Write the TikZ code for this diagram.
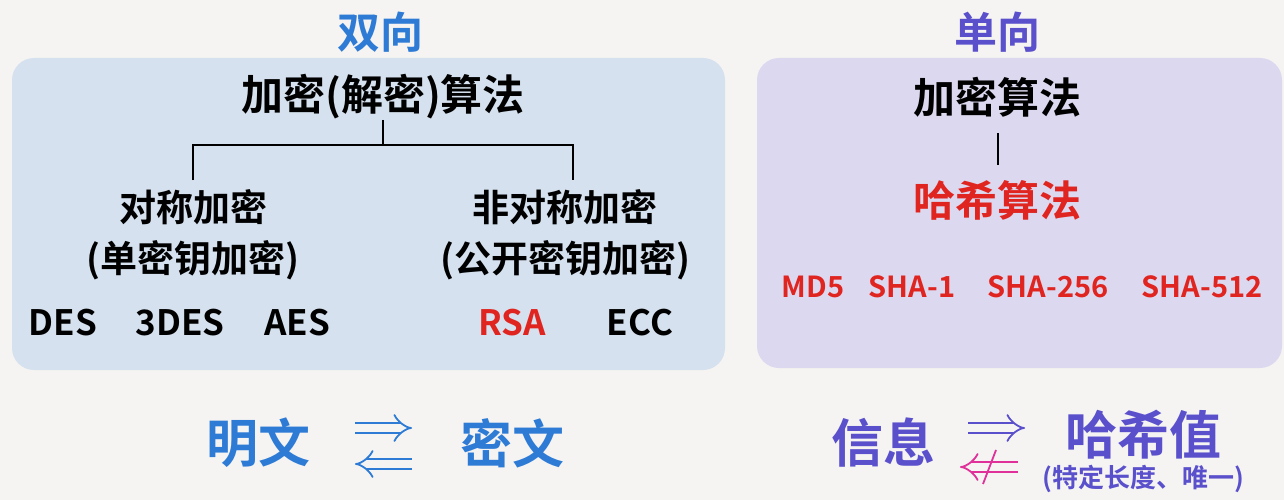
\documentclass[tikz,border=0pt]{standalone}
\usepackage{fontspec}
\setmainfont{Noto Sans CJK SC Bold}
\usetikzlibrary{arrows.meta}
\definecolor{bg}{HTML}{F5F4F2}
\definecolor{lbox}{HTML}{D5E1EE}
\definecolor{rbox}{HTML}{DCD8EF}
\definecolor{tblue}{HTML}{2E7BD6}
\definecolor{tpurp}{HTML}{5A50CC}
\definecolor{tred}{HTML}{E0241F}
\definecolor{tmag}{HTML}{E0309A}
\tikzset{
 t/.style={inner sep=0pt, anchor=center},
 fs/.style={font=\fontsize{#1}{#1}\selectfont},
 ln/.style={line width=2.2pt, black},
 dbl/.style={line width=1.8pt, double distance=8pt, -{Implies[length=9pt,width=18pt]}}
}
\begin{document}
\begin{tikzpicture}[x=1pt,y=-1pt]
\fill[bg] (0,0) rectangle (1284,500);
\useasboundingbox (0,0) rectangle (1284,500);
\fill[lbox, rounded corners=22pt] (12,58) rectangle (725,370);
\fill[rbox, rounded corners=22pt] (757,58) rectangle (1282,368);
\node[t,fs=43,tblue] (ls) at (380,32) {双向};
\node[t,fs=43,tpurp] (rs) at (997,32) {单向};
\node[t,fs=42] (root) at (383,97) {加密(解密)算法};
\node[t,fs=37] (sym) at (193,207) {对称加密};
\node[t,fs=37] (sym2) at (193,260) {(单密钥加密)};
\node[t,fs=37] (asym) at (565,207) {非对称加密};
\node[t,fs=37] (asym2) at (565,260) {(公开密钥加密)};
\node[t,fs=35] at (63,323) {DES};
\node[t,fs=35] at (180,323) {3DES};
\node[t,fs=35] at (297,323) {AES};
\node[t,fs=35,tred] at (512,323) {RSA};
\node[t,fs=35] at (640,323) {ECC};
\coordinate (j) at (383,145);
\draw[ln] (383,120) -- (j);
\draw[ln] (193,180) -- (193,145) -- (573,145) -- (573,180);
\node[t,fs=42] (r2) at (997,97) {加密算法};
\node[t,fs=42,tred] (hash) at (997,200) {哈希算法};
\draw[ln,line width=2pt] (998,133) -- (998,165);
\node[t,fs=29,tred] at (813,287) {MD5};
\node[t,fs=29,tred] at (912,287) {SHA-1};
\node[t,fs=29,tred] at (1048,287) {SHA-256};
\node[t,fs=29,tred] at (1202,287) {SHA-512};
\node[t,fs=52,tblue] (pt) at (258,443) {明文};
\node[t,fs=52,tblue] (ct) at (512,443) {密文};
\draw[dbl,tblue,double=bg] (355,428) -- (412,428);
\draw[dbl,tblue,double=bg] (412,464) -- (355,464);
\node[t,fs=52,tpurp] (msg) at (883,443) {信息};
\node[t,fs=52,tpurp] (hv) at (1143,435) {哈希值};
\node[t,fs=26,tpurp] at (1143,479) {(特定长度、唯一)};
\draw[dbl,tpurp,double=bg] (968,428) -- (1025,428);
\draw[dbl,tmag,double=bg] (1018,467) -- (960,467);
\draw[tmag,line width=1.8pt] (983,484) -- (996,450);
\end{tikzpicture}
\end{document}
